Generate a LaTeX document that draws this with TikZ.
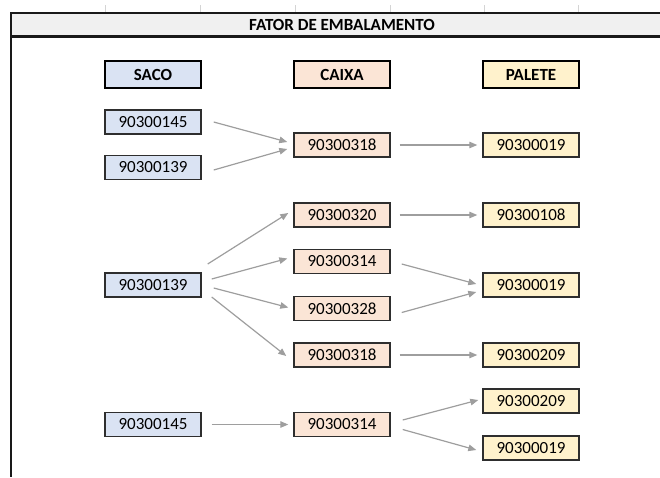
\documentclass[tikz,border=0pt]{standalone}
\usepackage{fontspec}
\setmainfont{Carlito}
\usetikzlibrary{arrows.meta,calc}
\definecolor{sacofill}{HTML}{DAE3F3}
\definecolor{caixafill}{HTML}{FBE5D6}
\definecolor{paletefill}{HTML}{FFF2CC}
\definecolor{headfill}{HTML}{F0F0F0}
\definecolor{linkgray}{HTML}{9E9E9E}
\definecolor{boxline}{HTML}{2E2E2E}
\definecolor{gridgray}{HTML}{D4D4D4}

\begin{document}
\begin{tikzpicture}[x=1pt,y=-1pt,
  cell/.style={draw=boxline, line width=1.4pt, minimum width=96pt,
    minimum height=24pt, inner sep=0pt, font=\fontsize{17}{20}\selectfont},
  colhead/.style={cell, draw=black, line width=2.4pt, minimum height=27pt,
    font=\fontsize{17}{20}\selectfont\bfseries},
  saco/.style={fill=sacofill},
  caixa/.style={fill=caixafill},
  palete/.style={fill=paletefill},
  link/.style={draw=linkgray, line width=1.2pt,
    -{Triangle[length=8pt,width=6.5pt]}}
]
\useasboundingbox (0,0) rectangle (660,477);

% sheet column marks
\foreach \x in {105,200,295,390,484,578}
  \draw[gridgray, line width=0.6pt] (\x,5) -- (\x,12);

% title band and frame
\fill[headfill] (11,13) rectangle (660,36.5);
\draw[line width=2.2pt, black!90] (660,13) -- (11,13) -- (11,477);
\draw[line width=2.2pt, black!90] (11,36.5) -- (660,36.5);
\node[font=\fontsize{17}{20}\selectfont\bfseries] (title) at (342,25)
  {FATOR DE EMBALAMENTO};

% column headers
\node[colhead,saco]   (hsaco)   at (153,74.5) {SACO};
\node[colhead,caixa]  (hcaixa)  at (342,74.5) {CAIXA};
\node[colhead,palete] (hpalete) at (531,74.5) {PALETE};

% SACO
\node[cell,saco] (s1) at (153,122)   {90300145};
\node[cell,saco] (s2) at (153,167.5) {90300139};
\node[cell,saco] (s3) at (153,285)   {90300139};
\node[cell,saco] (s4) at (153,424.5) {90300145};

% CAIXA
\node[cell,caixa] (c1) at (342,145)   {90300318};
\node[cell,caixa] (c2) at (342,215)   {90300320};
\node[cell,caixa] (c3) at (342,261.5) {90300314};
\node[cell,caixa] (c4) at (342,308.5) {90300328};
\node[cell,caixa] (c5) at (342,355)   {90300318};
\node[cell,caixa] (c6) at (342,424.5) {90300314};

% PALETE
\node[cell,palete] (p1) at (531,145) {90300019};
\node[cell,palete] (p2) at (531,215) {90300108};
\node[cell,palete] (p3) at (531,285) {90300019};
\node[cell,palete] (p4) at (531,355) {90300209};
\node[cell,palete] (p5) at (531,401) {90300209};
\node[cell,palete] (p6) at (531,448) {90300019};

% links
\draw[link] ($(s1.east)+(12,0)$)   -- ($(c1.west)+(-6,-3)$);
\draw[link] ($(s2.east)+(12,2.5)$) -- ($(c1.west)+(-6,4)$);
\draw[link] ($(c1.east)+(9,0)$)    -- ($(p1.west)+(-5,0)$);

\draw[link] ($(s3.east)+(6,-21)$)  -- ($(c2.west)+(-5,-2)$);
\draw[link] ($(s3.east)+(10,-6)$)  -- ($(c3.west)+(-6,-3)$);
\draw[link] ($(s3.east)+(12,3)$)   -- ($(c4.west)+(-5,-1)$);
\draw[link] ($(s3.east)+(10,12)$)  -- ($(c5.west)+(-7,1)$);

\draw[link] ($(c2.east)+(9,0)$)    -- ($(p2.west)+(-5,0)$);
\draw[link] ($(c3.east)+(11,2.5)$) -- ($(p3.west)+(-6,-1)$);
\draw[link] ($(c4.east)+(11,4)$)   -- ($(p3.west)+(-6,7)$);
\draw[link] ($(c5.east)+(9,0)$)    -- ($(p4.west)+(-5,0)$);

\draw[link] ($(s4.east)+(10,0)$)   -- ($(c6.west)+(-5,0)$);
\draw[link] ($(c6.east)+(12,-4.5)$) -- ($(p5.west)+(-4,-1)$);
\draw[link] ($(c6.east)+(12,5)$)   -- ($(p6.west)+(-6,2)$);
\end{tikzpicture}
\end{document}
